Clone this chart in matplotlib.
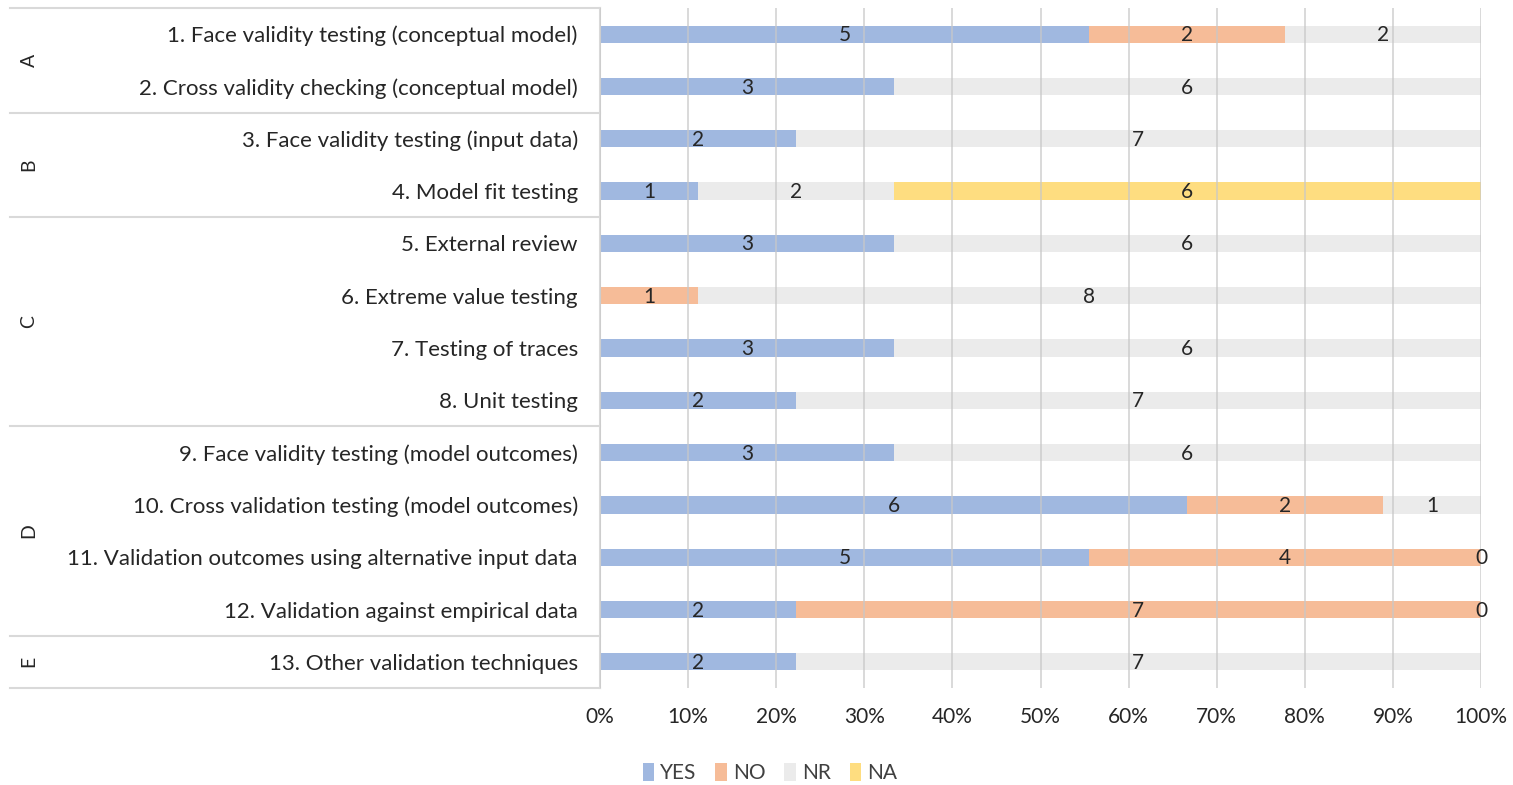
import numpy as np
import matplotlib.pyplot as plt
from matplotlib.patches import Patch
import matplotlib.transforms as mtransforms

plt.rcParams['font.family'] = ['Lato', 'DejaVu Sans']

items = [
    "1. Face validity testing (conceptual model)",
    "2. Cross validity checking (conceptual model)",
    "3. Face validity testing (input data)",
    "4. Model fit testing",
    "5. External review",
    "6. Extreme value testing",
    "7. Testing of traces",
    "8. Unit testing",
    "9. Face validity testing (model outcomes)",
    "10. Cross validation testing (model outcomes)",
    "11. Validation outcomes using alternative input data",
    "12. Validation against empirical data",
    "13. Other validation techniques",
]
# nan = empty cell (no label), 0 = real zero (labelled)
nan = np.nan
yes = [5, 3, 2, 1, 3, nan, 3, 2, 3, 6, 5, 2, 2]
no = [2, nan, nan, nan, nan, 1, nan, nan, nan, 2, 4, 7, nan]
nr = [2, 6, 7, 2, 6, 8, 6, 7, 6, 1, 0, 0, 7]
na = [nan, nan, nan, 6, nan, nan, nan, nan, nan, nan, nan, nan, nan]

groups = ["A", "B", "C", "D", "E"]
group_sizes = [2, 2, 4, 4, 1]

series = [("YES", yes, "#a0b8e0"), ("NO", no, "#f6bc98"),
          ("NR", nr, "#ebebeb"), ("NA", na, "#fedd80")]

W, H = 1513, 785
fig = plt.figure(figsize=(W / 100, H / 100), dpi=100)
ax = fig.add_axes([600 / W, 1 - 688 / H, (1481 - 600) / W, (688 - 8) / H])

n = len(items)
y = np.arange(n)
vals = np.array([s[1] for s in series], dtype=float)
totals = np.nansum(vals, axis=0)
left = np.zeros(n)

for name, v, col in series:
    v = np.array(v, dtype=float)
    pct = np.nan_to_num(v) / totals
    ax.barh(y, pct, left=left, height=0.33, color=col, zorder=2)
    for i in range(n):
        if not np.isnan(v[i]):
            ax.text(left[i] + pct[i] / 2, y[i] + 0.02, f"{int(v[i])}",
                    ha="center", va="center", fontsize=15, color="#262626",
                    zorder=4)
    left += pct

ax.set_xlim(0, 1)
ax.set_ylim(n - 0.5, -0.5)
ax.set_xticks(np.arange(0, 1.01, 0.1))
ax.set_xticklabels([f"{int(round(t * 100))}%" for t in np.arange(0, 1.01, 0.1)],
                   fontsize=15, color="#262626")
ax.set_yticks(y)
ax.set_yticklabels(items, fontsize=16, color="#262626")
ax.tick_params(axis="both", length=0)
ax.tick_params(axis="y", pad=16)
ax.tick_params(axis="x", pad=14)
ax.grid(axis="x", color="#c8c8c8", linewidth=1.2, alpha=0.8, zorder=3)
ax.set_axisbelow(False)
for s in ["top", "right", "bottom"]:
    ax.spines[s].set_visible(False)
ax.spines["left"].set_color("#d9d9d9")
ax.spines["left"].set_linewidth(1.5)

# group brackets on the left
trans = mtransforms.blended_transform_factory(ax.transAxes, ax.transData)
x0 = (10 - 600) / (1481 - 600)
start = -0.5
ax.plot([x0, 0], [start, start], color="#d9d9d9", lw=1.5, transform=trans,
        clip_on=False)
for g, size in zip(groups, group_sizes):
    end = start + size
    ax.plot([x0, 0], [end, end], color="#d9d9d9", lw=1.5, transform=trans,
            clip_on=False)
    ax.text((29 - 600) / (1481 - 600), (start + end) / 2, g, rotation=90,
            ha="center", va="center", fontsize=14, color="#262626",
            transform=trans)
    start = end

handles = [Patch(facecolor=c, label=nm) for nm, _, c in series]
fig.legend(handles=handles, loc="center", bbox_to_anchor=(770 / W, 1 - 773 / H),
           ncol=4, frameon=False, fontsize=15, handlelength=0.55,
           handleheight=1.0, handletextpad=0.3, columnspacing=0.9,
           labelcolor="#404040")

fig.savefig("out.png", dpi=100)
